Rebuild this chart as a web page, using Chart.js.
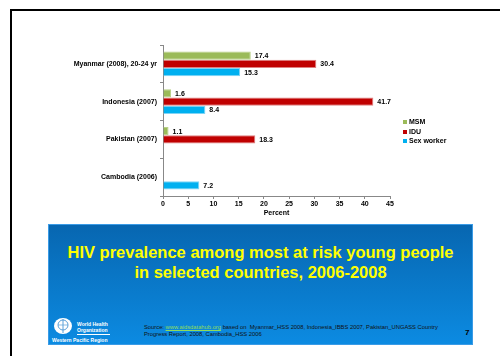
<!DOCTYPE html>
<html>
<head>
<meta charset="utf-8">
<script src="https://cdn.jsdelivr.net/npm/chart.js@4"></script>
<style>
  html, body { margin: 0; padding: 0; background: #fff; }
  body { width: 500px; height: 356px; position: relative; overflow: hidden; font-family: Arial, "Liberation Sans", sans-serif; }
  .frame-top { position: absolute; left: 10px; top: 9px; width: 490px; height: 2px; background: #000; }
  .frame-left { position: absolute; left: 10px; top: 9px; width: 2px; height: 347px; background: #000; }
  #chart { position: absolute; left: 0; top: 0; }
  .legend { position: absolute; left: 403px; top: 117px; font: bold 7px Arial, "Liberation Sans", sans-serif; color: #000; }
  .legend div { height: 9.5px; line-height: 9.5px; white-space: nowrap; }
  .legend span { display: inline-block; width: 4px; height: 4px; margin-right: 2px; vertical-align: 0px; }
  .banner { position: absolute; left: 48px; top: 224px; width: 425px; height: 121px;
            background: linear-gradient(#0766b0, #0c8be2); box-shadow: inset 0 0 0 1px #3a9be6; }
  .banner h1 { margin: 0; position: absolute; left: 0; right: 0; top: 18px; text-align: center;
               font: bold 16.5px/20px Arial, "Liberation Sans", sans-serif; color: #ffff00; }
  .who { position: absolute; left: 4px; top: 93px; color: #fff; font: bold 5px Arial, "Liberation Sans", sans-serif; }
  .who svg { position: absolute; left: 1px; top: 0; }
  .who .name { position: absolute; left: 25px; top: 5px; line-height: 5.5px; white-space: nowrap; border-bottom: 1px solid #fff; width: 33px; padding-bottom: 1px; }
  .who .region { position: absolute; left: 0; top: 20px; white-space: nowrap; }
  .source { position: absolute; left: 96px; top: 100px; white-space: nowrap; font: 5.8px/6.5px Arial, "Liberation Sans", sans-serif; color: #111; }
  .source u { color: #8fdc5a; }
  .page { position: absolute; left: 417px; top: 104px; font: bold 8px Arial, "Liberation Sans", sans-serif; color: #000; }
</style>
</head>
<body>
<div class="frame-top"></div>
<div class="frame-left"></div>
<canvas id="chart" width="500" height="217"></canvas>
<div class="legend" id="legend"></div>
<div class="banner">
  <h1>HIV prevalence among most at risk young people<br>in selected countries, 2006-2008</h1>
  <div class="who">
    <svg width="20" height="18" viewBox="0 0 20 18">
      <ellipse cx="10" cy="9" rx="9" ry="8" fill="#fff"/>
      <ellipse cx="10" cy="8" rx="5" ry="5" fill="none" stroke="#5aa0d8" stroke-width="1"/>
      <line x1="10" y1="2" x2="10" y2="16" stroke="#5aa0d8" stroke-width="1"/>
      <line x1="5" y1="8" x2="15" y2="8" stroke="#5aa0d8" stroke-width="0.7"/>
    </svg>
    <div class="name">World Health<br>Organization</div>
    <div class="region">Western Pacific Region</div>
  </div>
  <div class="source">Source: <u>www.aidsdatahub.org</u> based on &nbsp;Myanmar_HSS 2008, Indonesia_IBBS 2007, Pakistan_UNGASS Country<br>Progress Report, 2008, Cambodia_HSS 2006</div>
  <div class="page">7</div>
</div>

<script>
// --- DONNÉES ---
const countries = ['Myanmar (2008), 20-24 yr', 'Indonesia (2007)', 'Pakistan (2007)', 'Cambodia (2006)'];
const seriesNames = ['MSM', 'IDU', 'Sex worker'];
const msmValues = [17.4, 1.6, 1.1, null];
const iduValues = [30.4, 41.7, 18.3, null];
const sexWorkerValues = [15.3, 8.4, null, 7.2];
const xTicks = [0, 5, 10, 15, 20, 25, 30, 35, 40, 45];

const seriesColors = ['#9bbb59', '#c00000', '#00b0f0'];
const seriesBorders = ['#b7cf86', '#e08080', '#7fd4f5'];

// étiquettes de valeur au bout des barres
const valueLabels = {
  id: 'valueLabels',
  afterDatasetsDraw(chart) {
    const ctx = chart.ctx;
    ctx.save();
    ctx.font = 'bold 7px Arial, "Liberation Sans", sans-serif';
    ctx.fillStyle = '#000';
    ctx.textBaseline = 'middle';
    chart.data.datasets.forEach((ds, i) => {
      chart.getDatasetMeta(i).data.forEach((bar, j) => {
        const v = ds.data[j];
        if (v == null) return;
        ctx.fillText(v.toFixed(1), bar.x + 4, bar.y + 0.5);
      });
    });
    ctx.restore();
  }
};

const tickFont = { family: 'Arial, "Liberation Sans", sans-serif', size: 7, weight: 'bold' };

new Chart(document.getElementById('chart').getContext('2d'), {
  type: 'bar',
  data: {
    labels: countries,
    datasets: [msmValues, iduValues, sexWorkerValues].map((vals, i) => ({
      label: seriesNames[i],
      data: vals,
      backgroundColor: seriesColors[i],
      borderColor: seriesBorders[i],
      borderWidth: 1,
      categoryPercentage: 0.66,
      barPercentage: 1
    }))
  },
  options: {
    indexAxis: 'y',
    responsive: false,
    devicePixelRatio: 1,
    animation: false,
    layout: { padding: { left: 0, top: 45, right: 110, bottom: 0 } },
    plugins: { legend: { display: false }, tooltip: { enabled: false } },
    scales: {
      x: {
        min: 0, max: 45,
        afterBuildTicks: s => { s.ticks = xTicks.map(v => ({ value: v })); },
        afterFit: s => { s.height = 21; },
        grid: { drawOnChartArea: false, drawTicks: true, tickLength: 3, color: '#888' },
        border: { color: '#888' },
        ticks: { font: tickFont, color: '#000', padding: 1, maxRotation: 0 },
        title: { display: true, text: 'Percent', font: tickFont, color: '#000', padding: 0 }
      },
      y: {
        afterFit: s => { s.width = 163; },
        grid: { drawOnChartArea: false, drawTicks: true, tickLength: 3, color: '#888' },
        border: { color: '#888' },
        ticks: { font: tickFont, color: '#000', padding: 3 }
      }
    }
  },
  plugins: [valueLabels]
});

// légende HTML
document.getElementById('legend').innerHTML = seriesNames
  .map((n, i) => `<div><span style="background:${seriesColors[i]}"></span>${n}</div>`).join('');
</script>
</body>
</html>
